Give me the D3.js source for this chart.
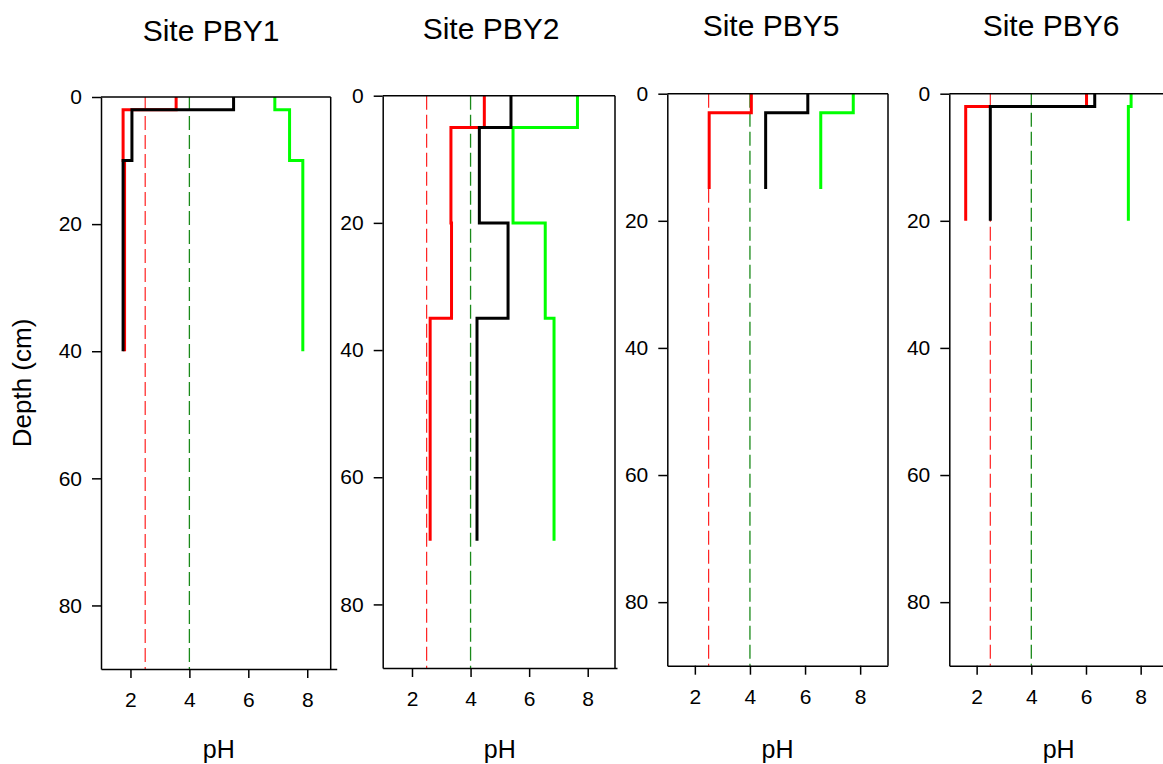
<!DOCTYPE html>
<html><head><meta charset="utf-8">
<script src="https://cdn.jsdelivr.net/npm/d3@7"></script>
<style>body{margin:0;background:#fff}svg{display:block}text{font-family:"Liberation Sans",Arial,sans-serif;fill:#000}</style>
</head><body>
<script>
// ---- data ----
const siteNames = ["Site PBY1", "Site PBY2", "Site PBY5", "Site PBY6"];
const xTicks = [2, 4, 6, 8];
const yTicks = [0, 20, 40, 60, 80];
const redThreshold = 2.5;
const greenThreshold = 4;

const depths1 = [0, 2, 10, 40];
const red1 = [3.55, 1.75, 1.8];
const black1 = [5.5, 2.05, 1.75];
const green1 = [6.9, 7.4, 7.85];

const depths2 = [0, 5, 20, 35, 70];
const red2 = [4.47, 3.33, 3.35, 2.62];
const black2 = [5.38, 4.3, 5.28, 4.22];
const green2 = [7.65, 5.45, 6.55, 6.85];

const depths5 = [0, 3, 15];
const red5 = [4.05, 2.52];
const black5 = [6.1, 4.57];
const green5 = [7.75, 6.57];

const depths6 = [0, 2, 20];
const red6 = [6.02, 1.6];
const black6 = [6.32, 2.5];
const green6 = [7.65, 7.55];

// ---- layout ----
const W = 1163, H = 764;
const panels = [
  {name: siteNames[0], depths: depths1, red: red1, black: black1, green: green1,
   x0: 101, x9: 336.7, right: 330.7, top: 97, bottom: 669, titleX: 211, titleY: 41},
  {name: siteNames[1], depths: depths2, red: red2, black: black2, green: green2,
   x0: 382.7, x9: 617, right: 615, top: 95.7, bottom: 668, titleX: 491, titleY: 39},
  {name: siteNames[2], depths: depths5, red: red5, black: black5, green: green5,
   x0: 667.3, x9: 887.7, right: 888, top: 93.7, bottom: 665.7, titleX: 771, titleY: 36},
  {name: siteNames[3], depths: depths6, red: red6, black: black6, green: green6,
   x0: 949.3, x9: 1168, right: 1200, top: 93.7, bottom: 665.7, titleX: 1051, titleY: 36}
];

const svg = d3.select("body").append("svg").attr("width", W).attr("height", H);

function stepPoints(depths, vals) {
  const pts = [];
  vals.forEach((v, i) => { pts.push([v, depths[i]]); pts.push([v, depths[i + 1]]); });
  return pts;
}

panels.forEach((p, idx) => {
  const x = d3.scaleLinear().domain([1, 9]).range([p.x0, p.x9]);
  const y = d3.scaleLinear().domain([0, 90]).range([p.top, p.bottom]);
  const g = svg.append("g");

  // threshold dashed lines
  g.append("line").attr("x1", x(redThreshold)).attr("x2", x(redThreshold))
    .attr("y1", y(0)).attr("y2", y(90)).attr("stroke", "#ff2020").attr("stroke-width", 1.2)
    .attr("stroke-dasharray", "14,5");
  g.append("line").attr("x1", x(greenThreshold)).attr("x2", x(greenThreshold))
    .attr("y1", y(0)).attr("y2", y(90)).attr("stroke", "#1a8a1a").attr("stroke-width", 1.3)
    .attr("stroke-dasharray", "14,5");

  const line = d3.line().x(d => x(d[0])).y(d => y(d[1]));
  [["red", "#ff0000"], ["green", "#00ff00"], ["black", "#000000"]].forEach(([k, c]) => {
    g.append("path").attr("d", line(stepPoints(p.depths, p[k])))
      .attr("fill", "none").attr("stroke", c).attr("stroke-width", 3)
      .attr("stroke-linejoin", "miter").attr("stroke-linecap", "butt");
  });

  // frame: top and right
  g.append("line").attr("x1", p.x0).attr("x2", p.right).attr("y1", p.top).attr("y2", p.top)
    .attr("stroke", "#000").attr("stroke-width", 1.5);
  g.append("line").attr("x1", p.right).attr("x2", p.right).attr("y1", p.top).attr("y2", p.bottom)
    .attr("stroke", "#000").attr("stroke-width", 1.5);

  // axes
  const xa = g.append("g").attr("transform", `translate(0,${p.bottom})`)
    .call(d3.axisBottom(x).tickValues(xTicks).tickSize(9).tickSizeOuter(0).tickPadding(14));
  const ya = g.append("g").attr("transform", `translate(${p.x0},0)`)
    .call(d3.axisLeft(y).tickValues(yTicks).tickSize(9).tickSizeOuter(0).tickPadding(10));
  [xa, ya].forEach(a => {
    a.attr("font-size", 21).attr("font-family", '"Liberation Sans",Arial,sans-serif');
    a.selectAll("path,line").attr("stroke", "#000").attr("stroke-width", 1.5);
    a.selectAll("text").attr("font-size", 21).attr("fill", "#000");
  });

  g.append("text").attr("x", p.titleX).attr("y", p.titleY).attr("text-anchor", "middle")
    .attr("font-size", 30).text(p.name);
  g.append("text").attr("x", (p.x0 + p.x9) / 2).attr("y", 758).attr("text-anchor", "middle")
    .attr("font-size", 25).text("pH");
  if (idx === 0) {
    g.append("text").attr("transform", `translate(31,${(p.top + p.bottom) / 2}) rotate(-90)`)
      .attr("text-anchor", "middle").attr("font-size", 26).text("Depth (cm)");
  }
});
</script>
</body></html>
